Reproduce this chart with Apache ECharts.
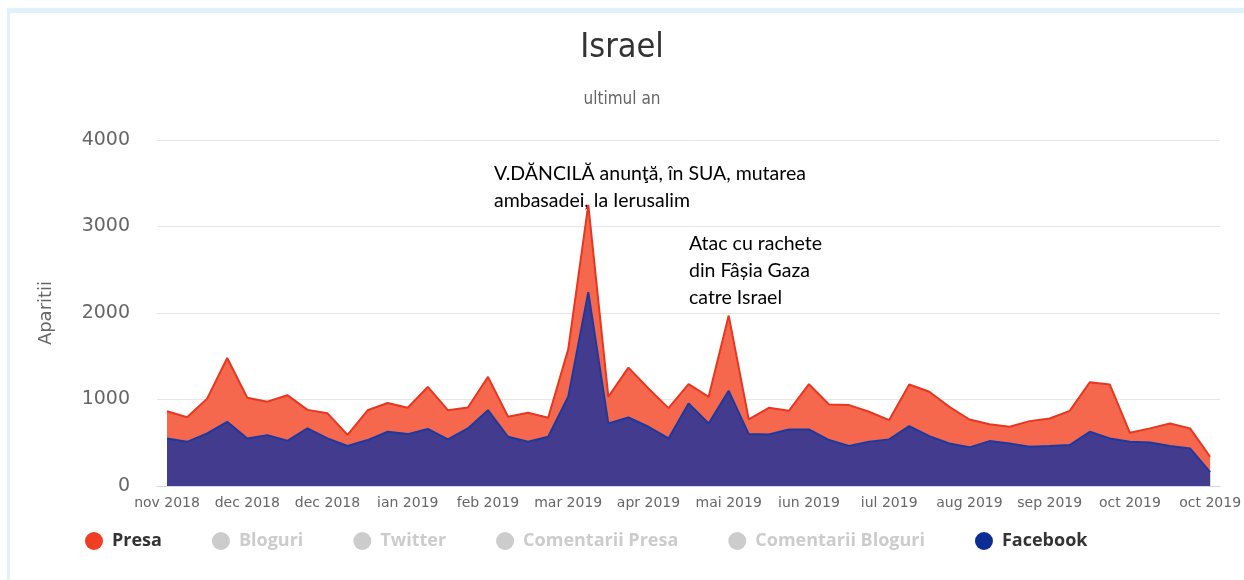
<!DOCTYPE html>
<html>
<head>
<meta charset="utf-8">
<script src="https://cdn.jsdelivr.net/npm/echarts@6/dist/echarts.min.js"></script>
<style>
  html, body { margin: 0; padding: 0; background: #fff; }
  #wrap { position: relative; width: 1244px; height: 580px; }
  #chart { width: 1244px; height: 580px; }
  #frame {
    position: absolute; left: 7px; top: 8px; right: 0; bottom: 0;
    border-top: 5px solid #dff2fb; border-left: 3px solid #dff2fb;
    pointer-events: none;
  }
</style>
</head>
<body>
<div id="wrap">
  <div id="chart"></div>
  <div id="frame"></div>
</div>
<script>
// saptamani (inceputul fiecarei saptamani)
var weeks = [
  '2018-10-29','2018-11-05','2018-11-12','2018-11-19','2018-11-26','2018-12-03','2018-12-10',
  '2018-12-17','2018-12-24','2018-12-31','2019-01-07','2019-01-14','2019-01-21','2019-01-28',
  '2019-02-04','2019-02-11','2019-02-18','2019-02-25','2019-03-04','2019-03-11','2019-03-18',
  '2019-03-25','2019-04-01','2019-04-08','2019-04-15','2019-04-22','2019-04-29','2019-05-06',
  '2019-05-13','2019-05-20','2019-05-27','2019-06-03','2019-06-10','2019-06-17','2019-06-24',
  '2019-07-01','2019-07-08','2019-07-15','2019-07-22','2019-07-29','2019-08-05','2019-08-12',
  '2019-08-19','2019-08-26','2019-09-02','2019-09-09','2019-09-16','2019-09-23','2019-09-30',
  '2019-10-07','2019-10-14','2019-10-21','2019-10-28'
]
// etichete axa x, una la fiecare 4 saptamani
var tickLabels = ['nov 2018','dec 2018','dec 2018','ian 2019','feb 2019','mar 2019','apr 2019',
  'mai 2019','iun 2019','iul 2019','aug 2019','sep 2019','oct 2019','oct 2019']

var presa = [865, 795, 1010, 1480, 1020, 975, 1050, 880, 840, 590, 875, 960, 905, 1145,
  877, 908, 1262, 800, 846, 789, 1580, 3250, 1031, 1369, 1127, 900, 1177, 1031, 1970,
  769, 904, 869, 1177, 942, 935, 858, 762, 1173, 1089, 915, 769, 715, 685, 750, 781,
  869, 1200, 1173, 615, 666, 723, 666, 338]
var facebook = [550, 511, 608, 742, 550, 588, 523, 666, 550, 462, 531, 627, 600, 660,
  539, 666, 877, 569, 511, 569, 1031, 2242, 723, 792, 685, 550, 954, 723, 1100,
  600, 596, 654, 654, 531, 462, 511, 539, 692, 577, 492, 447, 519, 492, 454, 462,
  473, 627, 550, 511, 504, 462, 435, 160]

var legendNames = ['Presa', 'Bloguri', 'Twitter', 'Comentarii Presa', 'Comentarii Bloguri', 'Facebook']

var chart = echarts.init(document.getElementById('chart'))

var hidden = ['Bloguri', 'Twitter', 'Comentarii Presa', 'Comentarii Bloguri'].map(function (n) {
  return { name: n, type: 'line', data: [], itemStyle: { color: '#ccc' } }
})

var option = {
  animation: false,
  title: {
    text: 'Israel',
    subtext: 'ultimul an',
    left: 617,
    textAlign: 'center',
    top: 26,
    itemGap: 26,
    textStyle: { fontFamily: "'DejaVu Sans Condensed', Roboto, sans-serif", fontSize: 34, fontWeight: 'normal', color: '#333' },
    subtextStyle: { fontFamily: "'DejaVu Sans Condensed', Roboto, sans-serif", fontSize: 17, color: '#666' }
  },
  legend: {
    data: legendNames,
    left: 80,
    top: 527,
    icon: 'circle',
    itemWidth: 18,
    itemHeight: 18,
    itemGap: 50,
    inactiveColor: '#ccc',
    selected: { 'Bloguri': false, 'Twitter': false, 'Comentarii Presa': false, 'Comentarii Bloguri': false },
    textStyle: { fontFamily: 'Open Sans', fontWeight: 'bold', fontSize: 18, color: '#333', padding: [0, 0, 0, 4] }
  },
  grid: { left: 157, right: 18, top: 140, bottom: 94 },
  xAxis: {
    type: 'category',
    data: weeks,
    boundaryGap: true,
    axisLine: { lineStyle: { color: '#ccd6eb' } },
    axisTick: { interval: 0, length: 14, lineStyle: { color: '#ccd6eb' } },
    axisLabel: {
      interval: 3,
      margin: 10,
      fontFamily: 'DejaVu Sans',
      fontSize: 14,
      color: '#666',
      formatter: function (v, i) { return tickLabels[Math.round(i / 4)] || '' }
    }
  },
  yAxis: {
    type: 'value',
    min: 0,
    max: 4000,
    interval: 1000,
    name: 'Aparitii',
    nameLocation: 'middle',
    nameGap: 102,
    nameTextStyle: { fontFamily: 'DejaVu Sans', fontSize: 18, color: '#666' },
    axisLabel: {
      margin: 27, fontFamily: 'DejaVu Sans', fontSize: 19, color: '#666',
      formatter: function (v) { return String(v) }
    },
    splitLine: { lineStyle: { color: '#e6e6e6' } }
  },
  graphic: [
    {
      type: 'text', left: 494, top: 160,
      style: {
        text: 'V.DĂNCILĂ anunţă, în SUA, mutarea\nambasadei, la Ierusalim',
        font: '19.5px Lato', fill: '#000', lineHeight: 27
      }
    },
    {
      type: 'text', left: 689, top: 230,
      style: {
        text: 'Atac cu rachete\ndin Fâșia Gaza\ncatre Israel',
        font: '19.5px Lato', fill: '#000', lineHeight: 27
      }
    }
  ],
  series: [
    {
      name: 'Presa',
      type: 'line',
      data: presa,
      showSymbol: false,
      itemStyle: { color: '#ef3e24' },
      lineStyle: { color: '#e8361f', width: 2 },
      areaStyle: { color: '#f6684e', opacity: 1 }
    }
  ].concat(hidden).concat([
    {
      name: 'Facebook',
      type: 'line',
      data: facebook,
      showSymbol: false,
      itemStyle: { color: '#0d2d94' },
      lineStyle: { color: '#1b3a9f', width: 2 },
      areaStyle: { color: '#433c8e', opacity: 1 }
    }
  ])
}

chart.setOption(option)
</script>
</body>
</html>
